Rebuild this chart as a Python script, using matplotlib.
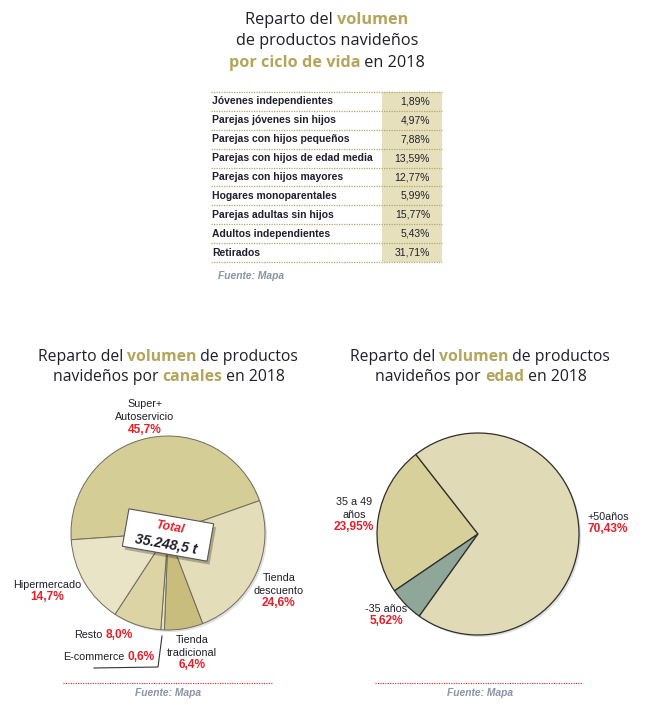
import matplotlib
matplotlib.use('Agg')
import matplotlib.pyplot as plt
from matplotlib import font_manager
from matplotlib.patches import Rectangle, Circle

# datos
ciclo_labels = ['Jóvenes independientes', 'Parejas jóvenes sin hijos', 'Parejas con hijos pequeños',
                'Parejas con hijos de edad media', 'Parejas con hijos mayores', 'Hogares monoparentales',
                'Parejas adultas sin hijos', 'Adultos independientes', 'Retirados']
ciclo_values = [1.89, 4.97, 7.88, 13.59, 12.77, 5.99, 15.77, 5.43, 31.71]

canal_labels = ['Super+\nAutoservicio', 'Tienda\ndescuento', 'Tienda\ntradicional', 'E-commerce', 'Resto', 'Hipermercado']
canal_values = [45.7, 24.6, 6.4, 0.6, 8.0, 14.7]
canal_total = '35.248,5 t'

edad_labels = ['35 a 49\naños', '-35 años', '+50años']
edad_values = [23.95, 5.62, 70.43]

W, H = 645, 705
DARK = '#201e2a'
GOLD = '#b3a55b'
RED = '#e3202a'
GRAY = '#8b93a5'

names = {f.name for f in font_manager.fontManager.ttflist}
NARROW = 'Liberation Sans Narrow' if 'Liberation Sans Narrow' in names else 'Liberation Sans'
NS = 1.0 if NARROW == 'Liberation Sans Narrow' else 0.84
TITLE = ['Open Sans', 'DejaVu Sans']


def fmt(v, nd):
    return f'{v:.{nd}f}'.replace('.', ',') + '%'


def Y(y):
    return H - y


fig = plt.figure(figsize=(W / 100, H / 100), dpi=100)
ax = fig.add_axes([0, 0, 1, 1])
renderer = fig.canvas.get_renderer()


def rich_line(xc, y, parts, size=11.3):
    texts = []
    for s, col, wt in parts:
        t = ax.text(0, Y(y), s, color=col, fontsize=size, fontweight=wt, family=TITLE,
                    ha='left', va='baseline')
        texts.append(t)
    widths = [t.get_window_extent(renderer).width for t in texts]
    x = xc - sum(widths) / 2
    for t, w in zip(texts, widths):
        t.set_x(x)
        x += w


def label(x, y, name, pct, step=12.5):
    lines = name.split('\n')
    for i, ln in enumerate(lines):
        ax.text(x, Y(y + i * step), ln, ha='center', va='center', fontsize=9.2 * NS,
                family=NARROW, color=DARK)
    ax.text(x, Y(y + len(lines) * step), pct, ha='center', va='center', fontsize=10.2 * NS,
            family=NARROW, fontweight='bold', color=RED)


# titulo superior
rich_line(327, 23.5, [('Reparto del ', DARK, 'normal'), ('volumen', GOLD, 'bold')], 11.7)
rich_line(327, 45, [('de productos navideños', DARK, 'normal')], 11.7)
rich_line(327, 67, [('por ciclo de vida', GOLD, 'bold'), (' en 2018', DARK, 'normal')], 11.7)

# tabla
top, bot = 92, 262
x0, xv, x1 = 211, 382, 442
pitch = (bot - top) / len(ciclo_labels)
ax.add_patch(Rectangle((xv, Y(bot)), x1 - xv, bot - top, color='#e6e0bd', lw=0, zorder=0))
for i in range(len(ciclo_labels) + 1):
    yy = Y(top + i * pitch)
    ax.plot([x0, x1], [yy, yy], color='#b0a868', lw=0.9, ls=(0, (1, 1)), zorder=1)
for i, (lab, val) in enumerate(zip(ciclo_labels, ciclo_values)):
    yc = Y(top + (i + 0.5) * pitch)
    ax.text(x0 + 1, yc, lab, ha='left', va='center', fontsize=8.9 * NS, family=NARROW,
            fontweight='bold', color=DARK)
    ax.text(430, yc, fmt(val, 2), ha='right', va='center', fontsize=8.9 * NS, family=NARROW,
            color=DARK)
ax.text(218, Y(276), 'Fuente: Mapa', ha='left', va='center', fontsize=8.8 * NS, family=NARROW,
        style='italic', fontweight='bold', color=GRAY)

# titulos medios
rich_line(168, 361, [('Reparto del ', DARK, 'normal'), ('volumen', GOLD, 'bold'),
                     (' de productos', DARK, 'normal')])
rich_line(169, 381, [('navideños por ', DARK, 'normal'), ('canales', GOLD, 'bold'),
                     (' en 2018', DARK, 'normal')])
rich_line(480, 361, [('Reparto del ', DARK, 'normal'), ('volumen', GOLD, 'bold'),
                     (' de productos', DARK, 'normal')])
rich_line(481, 381, [('navideños por ', DARK, 'normal'), ('edad', GOLD, 'bold'),
                     (' en 2018', DARK, 'normal')])

# tarta canales
c1, r1 = (168, Y(533)), 97
ax.add_patch(Circle((c1[0] + 2, c1[1] - 2), r1, color='#000000', alpha=0.12, lw=0, zorder=1))
ax.pie(canal_values, center=c1, radius=r1, startangle=184, counterclock=False,
       colors=['#d5cd96', '#e3ddb9', '#c8bd7c', '#e6e1c3', '#dcd4a4', '#e9e4c6'],
       wedgeprops=dict(edgecolor='#6e6c5c', linewidth=0.7), frame=True)

label(145, 404, canal_labels[0], fmt(canal_values[0], 1), 13)
label(279, 578, canal_labels[1], fmt(canal_values[1], 1))
label(192, 640, canal_labels[2], fmt(canal_values[2], 1))
label(47, 585, canal_labels[5], fmt(canal_values[5], 1))
for nm, val, xr, yy in [(canal_labels[4], canal_values[4], 133, 635),
                        (canal_labels[3], canal_values[3], 155, 657)]:
    t2 = ax.text(xr, Y(yy), fmt(val, 1), ha='right', va='center', fontsize=10.2 * NS,
                 family=NARROW, fontweight='bold', color=RED)
    w = t2.get_window_extent(renderer).width
    ax.text(xr - w - 3, Y(yy), nm, ha='right', va='center', fontsize=9.2 * NS,
            family=NARROW, color=DARK)
ax.plot([162, 158, 94], [Y(636), Y(667), Y(668)], color='#333333', lw=0.8)

# cuadro total
bc = (168, Y(535))
for dx, dy, fc, al in [(3, -3, '#000000', 0.25), (0, 0, 'white', 1)]:
    ax.add_patch(Rectangle((bc[0] - 43 + dx, bc[1] - 19 + dy), 86, 38, angle=-10,
                           rotation_point=(bc[0], bc[1]), facecolor=fc, alpha=al,
                           edgecolor='#555555' if fc == 'white' else 'none', lw=0.8, zorder=5))
ax.text(170, Y(528), 'Total', ha='center', va='center', rotation=-10, rotation_mode='anchor',
        fontsize=10.5 * NS, family=NARROW, fontweight='bold', style='italic', color=RED, zorder=6)
ax.text(166, Y(544), canal_total, ha='center', va='center', rotation=-10, rotation_mode='anchor',
        fontsize=12 * NS, family=NARROW, fontweight='bold', style='italic', color=DARK, zorder=6)

# tarta edad
c2, r2 = (478, Y(534)), 101
ax.add_patch(Circle((c2[0] + 2, c2[1] - 2), r2, color='#000000', alpha=0.12, lw=0, zorder=1))
ax.pie(edad_values, center=c2, radius=r2, startangle=128, counterclock=True,
       colors=['#d7d09a', '#8ea798', '#e0dbb6'],
       wedgeprops=dict(edgecolor='#2e2e2e', linewidth=0.9), frame=True)
label(354, 502, edad_labels[0], fmt(edad_values[0], 2))
label(386, 609, edad_labels[1], fmt(edad_values[1], 2))
label(608, 517, edad_labels[2], fmt(edad_values[2], 2))

# fuentes inferiores
for xa, xb, xc in [(63, 273, 168), (375, 583, 480)]:
    ax.plot([xa, xb], [Y(683), Y(683)], color=RED, lw=0.8, ls=(0, (1, 1.2)))
    ax.text(xc, Y(693), 'Fuente: Mapa', ha='center', va='center', fontsize=8.8 * NS,
            family=NARROW, style='italic', fontweight='bold', color=GRAY)

ax.set_xlim(0, W)
ax.set_ylim(0, H)
ax.set_aspect('equal')
ax.axis('off')
fig.savefig('out.png', dpi=100)
